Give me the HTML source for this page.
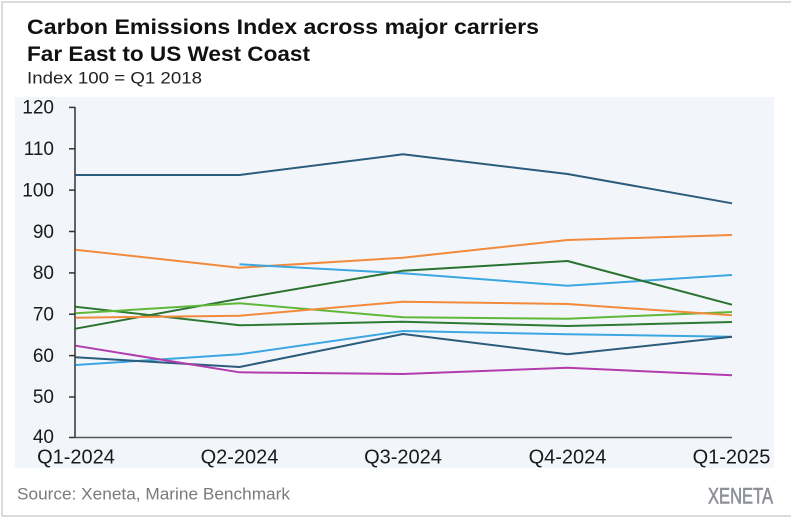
<!DOCTYPE html>
<html>
<head>
<meta charset="utf-8">
<style>
  html, body { margin:0; padding:0; background:#ffffff; }
  body { width:791px; height:519px; overflow:hidden; }
  svg { display:block; }
  text { font-family: "Liberation Sans", "DejaVu Sans", sans-serif; }
</style>
</head>
<body>
<svg width="791" height="519" viewBox="0 0 791 519" xmlns="http://www.w3.org/2000/svg">
  <rect x="0" y="0" width="791" height="519" fill="#ffffff"/>
  <!-- outer border -->
  <path d="M2 516 L2 2 L791 2" fill="none" stroke="#cfcfcf" stroke-width="1.5"/>
  <line x1="2" y1="516" x2="791" y2="516" stroke="#cfcfcf" stroke-width="1.5"/>

  <!-- titles -->
  <text x="27" y="34" font-size="21" font-weight="bold" fill="#111" textLength="512" lengthAdjust="spacingAndGlyphs">Carbon Emissions Index across major carriers</text>
  <text x="27" y="61" font-size="21" font-weight="bold" fill="#111" textLength="283" lengthAdjust="spacingAndGlyphs">Far East to US West Coast</text>
  <text x="27" y="83.5" font-size="17" fill="#222" textLength="175" lengthAdjust="spacingAndGlyphs">Index 100 = Q1 2018</text>

  <!-- plot background -->
  <rect x="15" y="97" width="759" height="371" fill="#f2f6fa"/>

  <!-- y axis -->
  <line x1="75" y1="107" x2="75" y2="438" stroke="#333" stroke-width="1.5"/>
  <line x1="75" y1="437.5" x2="732" y2="437.5" stroke="#555" stroke-width="1.5"/>
  <g stroke="#333" stroke-width="1.5">
    <line x1="69" y1="107.4" x2="75" y2="107.4"/>
    <line x1="69" y1="148.8" x2="75" y2="148.8"/>
    <line x1="69" y1="190.1" x2="75" y2="190.1"/>
    <line x1="69" y1="231.5" x2="75" y2="231.5"/>
    <line x1="69" y1="272.9" x2="75" y2="272.9"/>
    <line x1="69" y1="314.2" x2="75" y2="314.2"/>
    <line x1="69" y1="355.6" x2="75" y2="355.6"/>
    <line x1="69" y1="397" x2="75" y2="397"/>
    <line x1="69" y1="437.5" x2="75" y2="437.5"/>
  </g>
  <g font-size="19" fill="#1a1a1a" text-anchor="end">
    <text x="54" y="113.5">120</text>
    <text x="54" y="155">110</text>
    <text x="54" y="196.5">100</text>
    <text x="54" y="238">90</text>
    <text x="54" y="279">80</text>
    <text x="54" y="320.5">70</text>
    <text x="54" y="362">60</text>
    <text x="54" y="403">50</text>
    <text x="54" y="443">40</text>
  </g>

  <!-- x labels -->
  <g font-size="20" fill="#1a1a1a" text-anchor="middle">
    <text x="76" y="463.5">Q1-2024</text>
    <text x="239.5" y="463.5">Q2-2024</text>
    <text x="403" y="463.5">Q3-2024</text>
    <text x="567.5" y="463.5">Q4-2024</text>
    <text x="731.5" y="463.5">Q1-2025</text>
  </g>

  <!-- series -->
  <g fill="none" stroke-width="2" stroke-linejoin="round">
    <polyline stroke="#2c5c7c" points="75.5,175 239.5,175 403,154.3 567.5,174 732,203.3"/>
    <polyline stroke="#f28a3c" points="75.5,249.7 239.5,267.7 403,257.7 567.5,240 732,235"/>
    <polyline stroke="#3ca6e0" points="239.5,264.3 403,273.3 567.5,285.7 732,275"/>
    <polyline stroke="#2b7230" points="75.5,328.7 239.5,298.7 403,270.7 567.5,261 732,304.7"/>
    <polyline stroke="#2e7a32" points="75.5,306.7 239.5,325.3 403,321.7 567.5,326 732,322"/>
    <polyline stroke="#5fb83a" points="75.5,313.3 239.5,303.3 403,317.3 567.5,318.7 732,312"/>
    <polyline stroke="#f28a3c" points="75.5,317.7 239.5,315.7 403,301.7 567.5,304 732,315.3"/>
    <polyline stroke="#3ca6e0" points="75.5,365 239.5,354.3 403,331 567.5,334.3 732,336.7"/>
    <polyline stroke="#2c5c7c" points="75.5,357.3 239.5,367 403,334 567.5,354.3 732,336.7"/>
    <polyline stroke="#b23cae" points="75.5,345.7 239.5,372.3 403,374 567.5,367.7 732,375.3"/>
  </g>

  <!-- footer -->
  <text x="17" y="499.5" font-size="17" fill="#7a7a7a" textLength="273" lengthAdjust="spacingAndGlyphs">Source: Xeneta, Marine Benchmark</text>
  <text x="708" y="503.5" font-size="22" fill="#8d8f99" stroke="#8d8f99" stroke-width="0.6" textLength="65" lengthAdjust="spacingAndGlyphs">XENETA</text>
</svg>
</body>
</html>
